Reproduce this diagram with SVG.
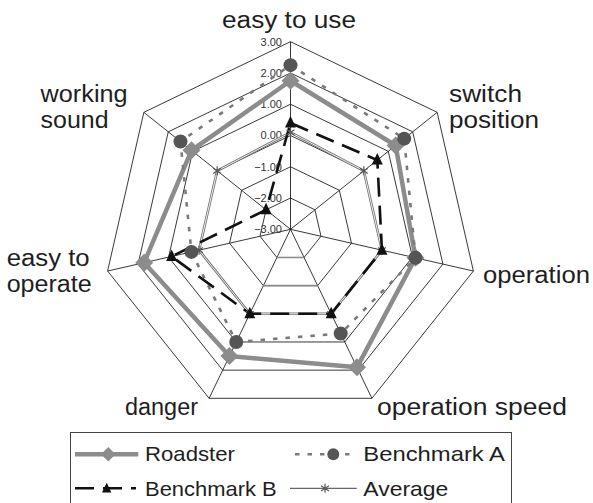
<svg xmlns="http://www.w3.org/2000/svg" xmlns:xlink="http://www.w3.org/1999/xlink" width="593" height="503" viewBox="0 0 593 503">
  <style>
    .grid { fill: none; stroke: #222; stroke-width: 0.9; }
    .gridgray { fill: none; stroke: #8a8a8a; stroke-width: 1.6; }
    .tick { font-family: "Liberation Sans", Arial, sans-serif; font-size: 11px; fill: #333; text-anchor: end; }
    .axis { font-family: "Liberation Sans", Arial, sans-serif; font-size: 23px; fill: #1e1e1e; }
    .leg { font-family: "Liberation Sans", Arial, sans-serif; font-size: 21px; fill: #1e1e1e; }
    .roadster { fill: none; stroke: #8c8c8c; stroke-width: 4.5; stroke-linejoin: round; }
    .benchA { fill: none; stroke: #7a7a7a; stroke-width: 2.6; stroke-dasharray: 4.5 8; }
    .benchB { fill: none; stroke: #111; stroke-width: 2.6; stroke-dasharray: 19 9; }
    .avgOuter { fill: none; stroke: #707070; stroke-width: 2.6; }
    .avgInner { fill: none; stroke: #fff; stroke-width: 0.9; }
    .avgLeg { fill: none; stroke: #666; stroke-width: 1.2; }
  </style>
  <defs>
    <path id="diamond" d="M0,-9 L9,0 L0,9 L-9,0 Z" fill="#8c8c8c"/>
    <circle id="dot" r="7" fill="#555"/>
    <path id="tri" d="M0,-7 L5.5,4.5 L-5.5,4.5 Z" fill="#111"/>
    <path id="star" d="M0,-4.5 V4.5 M-3.9,-2.6 L3.9,2.6 M-3.9,2.6 L3.9,-2.6" stroke="#555" stroke-width="1.2" fill="none"/>
  </defs>

  <rect width="593" height="503" fill="#fff"/>

  <!-- radar grid: rings at -2 .. 3 and spokes -->
  <g id="grid">
    <polygon class="grid" points="290.5,198.03 314.95,209.80 320.99,236.26 304.07,257.47 276.93,257.47 260.01,236.26 266.05,209.80"/>
    <polygon class="grid" points="290.5,166.77 339.39,190.31 351.46,243.21 317.63,285.64 263.37,285.64 229.54,243.21 241.61,190.31"/>
    <polygon class="grid" points="290.5,135.5 363.84,170.82 381.95,250.17 331.20,313.81 249.80,313.81 199.05,250.17 217.16,170.82"/>
    <polygon class="grid" points="290.5,104.23 388.28,151.32 412.43,257.13 344.77,341.98 236.23,341.98 168.57,257.13 192.72,151.32"/>
    <polygon class="grid" points="290.5,72.97 412.73,131.83 442.91,264.09 358.33,370.15 222.67,370.15 138.09,264.09 168.27,131.83"/>
    <polygon class="grid" points="290.5,41.7 437.17,112.33 473.40,271.04 371.90,398.32 209.10,398.32 107.60,271.04 143.83,112.33"/>
    <path class="grid" d="M290.5,229.3 L290.5,41.7 M290.5,229.3 L437.17,112.33 M290.5,229.3 L473.40,271.04 M290.5,229.3 L371.90,398.32 M290.5,229.3 L209.10,398.32 M290.5,229.3 L107.60,271.04 M290.5,229.3 L143.83,112.33"/>
    <path class="gridgray" d="M276.93,257.47 H304.07 M263.37,285.64 H317.63"/>
  </g>

  <!-- scale labels along the top spoke -->
  <g id="scale">
    <text class="tick" x="282" y="45.6">3.00</text>
    <text class="tick" x="282" y="76.9">2.00</text>
    <text class="tick" x="282" y="108.1">1.00</text>
    <text class="tick" x="282" y="139.4">0.00</text>
    <text class="tick" x="282" y="170.7">−1.00</text>
    <text class="tick" x="282" y="201.9">−2.00</text>
    <text class="tick" x="282" y="233.2">−3.00</text>
  </g>

  <!-- category labels -->
  <g id="labels">
    <text class="axis" x="222" y="28" textLength="134" lengthAdjust="spacingAndGlyphs">easy to use</text>
    <text class="axis" x="449" y="102" textLength="73" lengthAdjust="spacingAndGlyphs">switch</text>
    <text class="axis" x="449" y="128" textLength="90" lengthAdjust="spacingAndGlyphs">position</text>
    <text class="axis" x="483" y="283" textLength="107" lengthAdjust="spacingAndGlyphs">operation</text>
    <text class="axis" x="377" y="415" textLength="190" lengthAdjust="spacingAndGlyphs">operation speed</text>
    <text class="axis" x="125" y="415" textLength="73" lengthAdjust="spacingAndGlyphs">danger</text>
    <text class="axis" x="6.7" y="266" textLength="83" lengthAdjust="spacingAndGlyphs">easy to</text>
    <text class="axis" x="6.7" y="292" textLength="85" lengthAdjust="spacingAndGlyphs">operate</text>
    <text class="axis" x="40.6" y="102" textLength="87" lengthAdjust="spacingAndGlyphs">working</text>
    <text class="axis" x="40.6" y="128" textLength="68" lengthAdjust="spacingAndGlyphs">sound</text>
  </g>

  <!-- data series -->
  <g id="connectors">
    <polygon id="roadster-line" class="roadster" points="290.5,80.77 395.62,145.47 415.49,257.83 356.98,367.35 229.45,356.08 144.16,262.70 191.49,150.34"/>
    <polygon id="benchA-line" class="benchA" points="290.5,65.13 404.18,138.64 415.49,257.83 340.70,333.54 236.23,341.99 191.42,251.91 180.48,141.56"/>
    <g id="average-line">
      <polygon class="avgOuter" points="290.5,132.36 363.84,170.82 381.95,250.17 331.20,313.81 249.80,313.81 199.05,250.17 217.16,170.82"/>
      <polygon class="avgInner" points="290.5,132.36 363.84,170.82 381.95,250.17 331.20,313.81 249.80,313.81 199.05,250.17 217.16,170.82"/>
    </g>
    <polygon id="benchB-line" class="benchB" points="290.5,122.98 377.29,160.09 381.95,250.17 331.20,313.81 249.80,313.81 171.61,256.44 266.05,209.80"/>
  </g>

  <g id="roadster-points">
    <use xlink:href="#diamond" x="290.5" y="80.77"/>
    <use xlink:href="#diamond" x="395.62" y="145.47"/>
    <use xlink:href="#diamond" x="415.49" y="257.83"/>
    <use xlink:href="#diamond" x="356.98" y="367.35"/>
    <use xlink:href="#diamond" x="229.45" y="356.08"/>
    <use xlink:href="#diamond" x="144.16" y="262.70"/>
    <use xlink:href="#diamond" x="191.49" y="150.34"/>
  </g>
  <g id="benchA-points">
    <use xlink:href="#dot" x="290.5" y="65.13"/>
    <use xlink:href="#dot" x="404.18" y="138.64"/>
    <use xlink:href="#dot" x="415.49" y="257.83"/>
    <use xlink:href="#dot" x="340.70" y="333.54"/>
    <use xlink:href="#dot" x="236.23" y="341.99"/>
    <use xlink:href="#dot" x="191.42" y="251.91"/>
    <use xlink:href="#dot" x="180.48" y="141.56"/>
  </g>
  <g id="average-points">
    <use xlink:href="#star" x="290.5" y="132.36"/>
    <use xlink:href="#star" x="363.84" y="170.82"/>
    <use xlink:href="#star" x="381.95" y="250.17"/>
    <use xlink:href="#star" x="331.20" y="313.81"/>
    <use xlink:href="#star" x="249.80" y="313.81"/>
    <use xlink:href="#star" x="199.05" y="250.17"/>
    <use xlink:href="#star" x="217.16" y="170.82"/>
  </g>
  <g id="benchB-points">
    <use xlink:href="#tri" x="290.5" y="122.98"/>
    <use xlink:href="#tri" x="377.29" y="160.09"/>
    <use xlink:href="#tri" x="381.95" y="250.17"/>
    <use xlink:href="#tri" x="331.20" y="313.81"/>
    <use xlink:href="#tri" x="249.80" y="313.81"/>
    <use xlink:href="#tri" x="171.61" y="256.44"/>
    <use xlink:href="#tri" x="266.05" y="209.80"/>
  </g>

  <!-- legend -->
  <g id="legend">
    <rect x="70.5" y="432.5" width="441" height="80" fill="#fff" stroke="#444" stroke-width="1"/>
    <line class="roadster" x1="75" y1="454.3" x2="138.3" y2="454.3" stroke-width="5"/>
    <use xlink:href="#diamond" transform="translate(108.3,454.3) scale(0.8)"/>
    <text class="leg" x="145" y="461" textLength="90" lengthAdjust="spacingAndGlyphs">Roadster</text>
    <line class="benchA" x1="295" y1="454.3" x2="350" y2="454.3" stroke-dasharray="4 7"/>
    <use xlink:href="#dot" transform="translate(333.3,454.3) scale(0.85)"/>
    <text class="leg" x="363.3" y="461" textLength="141.7" lengthAdjust="spacingAndGlyphs">Benchmark A</text>
    <line class="benchB" x1="75" y1="488.3" x2="136" y2="488.3" stroke-dasharray="21 8"/>
    <use xlink:href="#tri" transform="translate(106.7,488.8) scale(0.85)"/>
    <text class="leg" x="145" y="496" textLength="131.7" lengthAdjust="spacingAndGlyphs">Benchmark B</text>
    <line class="avgLeg" x1="290" y1="488.3" x2="356.7" y2="488.3"/>
    <use xlink:href="#star" x="325" y="488.3"/>
    <text class="leg" x="363.3" y="496" textLength="85" lengthAdjust="spacingAndGlyphs">Average</text>
  </g>
</svg>
